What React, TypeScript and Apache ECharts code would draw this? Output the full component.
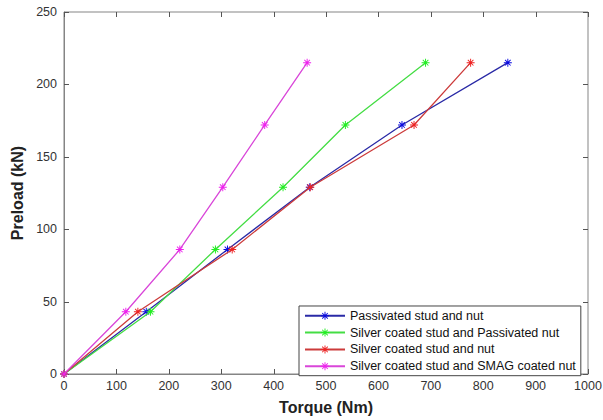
import React, { useEffect, useRef } from "react";
import * as echarts from "echarts";

const preload = [0, 43, 86, 129, 172, 215];
const seriesNames = [
  "Passivated stud and nut",
  "Silver coated stud and Passivated nut",
  "Silver coated stud and nut",
  "Silver coated stud and SMAG coated nut",
];
const torquePassivated = [0, 157, 312, 469, 645, 847];
const torqueSilverPassivated = [0, 165, 289, 418, 537, 690];
const torqueSilver = [0, 141, 321, 470, 668, 776];
const torqueSilverSmag = [0, 118, 221, 303, 383, 464];
const xTickValues = [0, 100, 200, 300, 400, 500, 600, 700, 800, 900, 1000];
const yTickValues = [0, 50, 100, 150, 200, 250];
const lineColors = ["#2a2aa6", "#44dd44", "#cc3b3b", "#d946d9"];
const markerColors = ["#0a0ae0", "#22ee22", "#ee2222", "#ee22ee"];

const asterisk =
  "path://M0 4.4H10V5.6H0Z M4.4 0H5.6V10H4.4Z M1.1 1.9L1.9 1.1L8.9 8.1L8.1 8.9Z M8.1 1.1L8.9 1.9L1.9 8.9L1.1 8.1Z";

export default function App() {
  const ref = useRef<HTMLDivElement>(null);
  useEffect(() => {
    if (!ref.current) return;
    const chart = echarts.init(ref.current, undefined, { renderer: "svg" });
    const data = [torquePassivated, torqueSilverPassivated, torqueSilver, torqueSilverSmag];
    const xMin = xTickValues[0];
    const xMax = xTickValues[xTickValues.length - 1];
    const yMin = yTickValues[0];
    const yMax = yTickValues[yTickValues.length - 1];
    chart.setOption({
      animation: false,
      backgroundColor: "#fff",
      grid: {
        left: 64, right: 15, top: 12, bottom: 46,
        outerBoundsMode: "none", containLabel: false,
        show: true, borderColor: "#858585", borderWidth: 1,
      },
      xAxis: {
        type: "value",
        min: xMin,
        max: xMax,
        interval: 100,
        name: "Torque (Nm)",
        nameLocation: "middle",
        nameGap: 25,
        nameTextStyle: { fontFamily: "Liberation Sans", fontWeight: "bold", fontSize: 16, color: "#222" },
        axisLine: { show: true, onZero: false, lineStyle: { color: "#858585" } },
        axisTick: { show: false },
        splitLine: { show: false },
        axisLabel: {
          fontFamily: "Liberation Sans", fontSize: 12.5, color: "#333", margin: 5,
          formatter: (v: number) => String(v),
        },
      },
      yAxis: {
        type: "value",
        min: yMin,
        max: yMax,
        interval: 50,
        name: "Preload (kN)",
        nameLocation: "middle",
        nameGap: 38,
        nameTextStyle: { fontFamily: "Liberation Sans", fontWeight: "bold", fontSize: 16, color: "#222" },
        axisLine: { show: true, onZero: false, lineStyle: { color: "#858585" } },
        axisTick: { show: false },
        splitLine: { show: false },
        axisLabel: { fontFamily: "Liberation Sans", fontSize: 12.5, color: "#333", margin: 7 },
      },
      legend: {
        orient: "vertical",
        left: 299,
        top: 306,
        itemWidth: 40,
        itemHeight: 10,
        itemGap: 3.8,
        padding: [3.3, 5, 3, 5],
        borderColor: "#444",
        borderWidth: 1,
        borderRadius: 0,
        backgroundColor: "#fff",
        textStyle: { fontFamily: "Liberation Sans", fontSize: 12.5, color: "#111", lineHeight: 10 },
        data: seriesNames,
        z: 20,
      },
      series: seriesNames.map((name, i) => ({
        name,
        type: "line",
        data: data[i].map((t, j) => [t, preload[j]]),
        symbol: asterisk,
        symbolSize: 8,
        showAllSymbol: true,
        lineStyle: { color: lineColors[i], width: 1.3 },
        itemStyle: { color: markerColors[i] },
        z: 2 + i,
      })),
    });

    const tickLen = 5;
    const tickStyle = { stroke: "#555", lineWidth: 1 };
    const ticks: any[] = [];
    const p0 = chart.convertToPixel({ gridIndex: 0 }, [xMin, yMin]) as any;
    const p1 = chart.convertToPixel({ gridIndex: 0 }, [xMax, yMax]) as any;
    if (p0 && p1) {
      const xLeft = p0[0], yBottom = p0[1], xRight = p1[0], yTop = p1[1];
      xTickValues.forEach((v) => {
        const px = Math.round((chart.convertToPixel({ gridIndex: 0 }, [v, yMin]) as any)[0]) + 0.5;
        ticks.push({ type: "line", silent: true, z: 1, shape: { x1: px, y1: yBottom, x2: px, y2: yBottom - tickLen }, style: tickStyle });
        ticks.push({ type: "line", silent: true, z: 1, shape: { x1: px, y1: yTop, x2: px, y2: yTop + tickLen }, style: tickStyle });
      });
      yTickValues.forEach((v) => {
        const py = Math.round((chart.convertToPixel({ gridIndex: 0 }, [xMin, v]) as any)[1]) + 0.5;
        ticks.push({ type: "line", silent: true, z: 1, shape: { x1: xLeft, y1: py, x2: xLeft + tickLen, y2: py }, style: tickStyle });
        ticks.push({ type: "line", silent: true, z: 1, shape: { x1: xRight, y1: py, x2: xRight - tickLen, y2: py }, style: tickStyle });
      });
    }
    chart.setOption({ graphic: ticks });
    return () => chart.dispose();
  }, []);
  return <div ref={ref} style={{ width: 603, height: 420, position: "absolute", left: 0, top: 0 }} />;
}
